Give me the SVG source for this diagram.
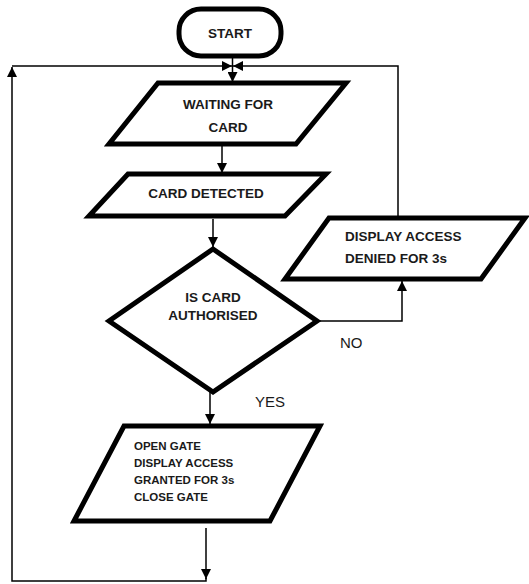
<svg xmlns="http://www.w3.org/2000/svg" width="529" height="584" viewBox="0 0 529 584">
<defs>
<marker id="ah" viewBox="0 0 10 10" refX="10" refY="5" markerWidth="12" markerHeight="10" markerUnits="userSpaceOnUse" orient="auto">
<path d="M0,0 L10,5 L0,10 Z" fill="#000"/>
</marker>
</defs>
<style>
.shape{fill:#fff;stroke:#000;stroke-width:5;stroke-linejoin:miter}
.conn{fill:none;stroke:#000;stroke-width:1.5}
.t{font-family:"Liberation Sans",Arial,sans-serif;font-weight:bold;font-size:13.5px;fill:#1a1a1a}
.ts{font-family:"Liberation Sans",Arial,sans-serif;font-weight:bold;font-size:11.5px;fill:#1a1a1a}
.lbl{font-family:"Liberation Sans",Arial,sans-serif;font-size:15px;fill:#1a1a1a}
</style>
<rect width="529" height="584" fill="#fff"/>
<g id="connectors">
<line class="conn" x1="232.5" y1="57" x2="232.5" y2="82" marker-end="url(#ah)"/>
<polyline class="conn" points="206,578 206,581 12,581 12,67" marker-end="url(#ah)"/>
<line class="conn" x1="206" y1="528" x2="206" y2="579" marker-end="url(#ah)"/>
<polyline class="conn" points="12,66 232,66" marker-end="url(#ah)"/>
<polyline class="conn" points="398,217 398,66 233,66" marker-end="url(#ah)"/>
<line class="conn" x1="222" y1="146" x2="222" y2="173" marker-end="url(#ah)"/>
<line class="conn" x1="213" y1="219" x2="213" y2="247" marker-end="url(#ah)"/>
<polyline class="conn" points="317,321 402,321 402,281" marker-end="url(#ah)"/>
<line class="conn" x1="210" y1="392" x2="210" y2="424" marker-end="url(#ah)"/>
</g>
<g id="start">
<rect class="shape" x="179" y="9" width="102" height="47" rx="22" ry="22" stroke-width="4"/>
<text class="t" x="230" y="38" text-anchor="middle">START</text>
</g>
<g id="waiting">
<polygon class="shape" points="158,83 346,83 296,144 109,144"/>
<text class="t" x="228" y="109" text-anchor="middle">WAITING FOR</text>
<text class="t" x="228" y="132" text-anchor="middle">CARD</text>
</g>
<g id="detected">
<polygon class="shape" points="128,174 326,174 285,216 89,216"/>
<text class="t" x="206" y="198" text-anchor="middle">CARD DETECTED</text>
</g>
<g id="decision">
<polygon class="shape" points="213,249 317,321 213,392 109,321"/>
<text class="t" x="213" y="302" text-anchor="middle">IS CARD</text>
<text class="t" x="213" y="320" text-anchor="middle">AUTHORISED</text>
</g>
<g id="denied">
<polygon class="shape" points="329,218 525,218 481,279 285,279"/>
<text class="t" x="345" y="241">DISPLAY ACCESS</text>
<text class="t" x="345" y="263">DENIED FOR 3s</text>
</g>
<g id="granted">
<polygon class="shape" points="124,426 320,426 270,521 74,521"/>
<text class="ts" x="134" y="450">OPEN GATE</text>
<text class="ts" x="134" y="467">DISPLAY ACCESS</text>
<text class="ts" x="134" y="484">GRANTED FOR 3s</text>
<text class="ts" x="134" y="501">CLOSE GATE</text>
</g>
<text class="lbl" x="340" y="348">NO</text>
<text class="lbl" x="255" y="407">YES</text>
</svg>
